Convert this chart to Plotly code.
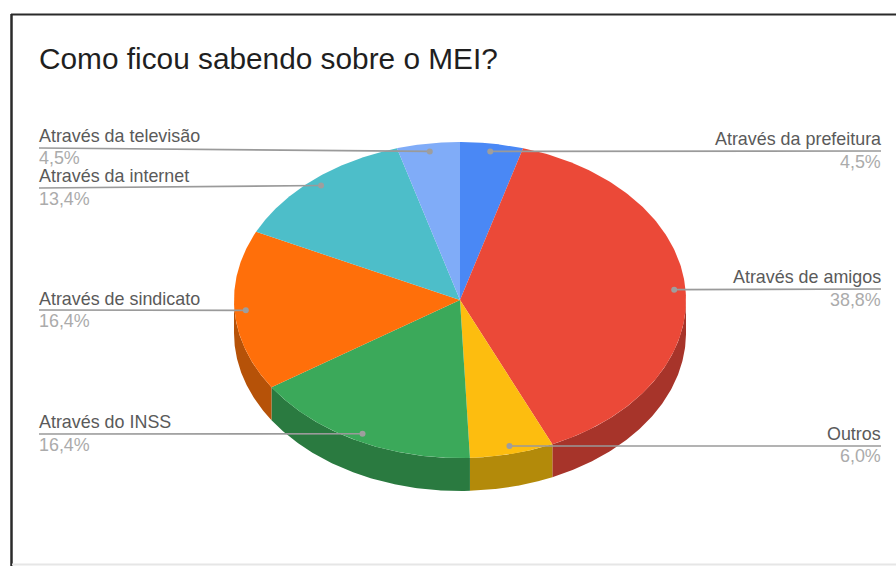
import numpy as np
import plotly.graph_objects as go

# Chart content
title = "Como ficou sabendo sobre o MEI?"
categories = ["Através da prefeitura", "Através de amigos", "Outros", "Através do INSS",
              "Através de sindicato", "Através da internet", "Através da televisão"]
shares = [4.5, 38.8, 6.0, 16.4, 16.4, 13.4, 4.5]
share_labels = ["4,5%", "38,8%", "6,0%", "16,4%", "16,4%", "13,4%", "4,5%"]

# Slice colours: top face and darker rim
top_colors = ["#4A88F5", "#EB4938", "#FDBD0F", "#3BA95A", "#FF6F0A", "#4DBEC9", "#80ACF8"]
rim_colors = ["#2E5DAB", "#A7342A", "#B38A0A", "#2A7A40", "#B65208", "#31848B", "#5677AD"]

# Pie geometry in page pixels
CX, CY, RX, RY, DEPTH = 460, 300, 226, 158, 33
DOT_RADIUS = 0.95

# Leader end on the label side: (x, y, anchor), and text centres above and below the line
label_layout = [
    (881, 151, "right", 139, 162),
    (881, 289, "right", 277, 300),
    (881, 446, "right", 434, 456),
    (39, 434, "left", 422, 445),
    (39, 310, "left", 299, 321),
    (39, 188, "left", 176, 199),
    (39, 148, "left", 136, 158),
]


def ellipse(deg, scale=1.0, drop=0.0):
    """Point on the pie, angle measured clockwise from twelve o'clock."""
    a = np.radians(deg)
    return CX + scale * RX * np.sin(a), CY - scale * RY * np.cos(a) + drop


total = sum(shares)
edges = np.cumsum([0.0] + shares) / total * 360.0

fig = go.Figure()

# Rim: only the near half of the disc (90 to 270 degrees) is visible
for i in range(len(shares)):
    lo, hi = max(edges[i], 90.0), min(edges[i + 1], 270.0)
    if lo >= hi:
        continue
    t = np.linspace(lo, hi, 120)
    x_top, y_top = ellipse(t)
    x_low, y_low = ellipse(t[::-1], drop=DEPTH)
    fig.add_trace(go.Scatter(
        x=np.r_[x_top, x_low], y=np.r_[y_top, y_low], mode="lines", fill="toself",
        fillcolor=rim_colors[i], line=dict(width=0), hoverinfo="skip", showlegend=False))

# Top face
for i, name in enumerate(categories):
    t = np.linspace(edges[i], edges[i + 1], 160)
    x_arc, y_arc = ellipse(t)
    fig.add_trace(go.Scatter(
        x=np.r_[CX, x_arc, CX], y=np.r_[CY, y_arc, CY], mode="lines", fill="toself",
        fillcolor=top_colors[i], line=dict(width=0), name=name,
        text=share_labels[i], hoverinfo="name+text", showlegend=False))

# Leader lines, anchor dots and labels
for i, name in enumerate(categories):
    mid = (edges[i] + edges[i + 1]) / 2
    dot_x, dot_y = ellipse(mid, scale=DOT_RADIUS)
    end_x, end_y, anchor, name_y, pct_y = label_layout[i]
    fig.add_trace(go.Scatter(
        x=[dot_x, end_x], y=[dot_y, end_y], mode="lines",
        line=dict(color="#9A9A9A", width=1.6), hoverinfo="skip", showlegend=False))
    fig.add_trace(go.Scatter(
        x=[dot_x], y=[dot_y], mode="markers",
        marker=dict(color="#9E9E9E", size=6), hoverinfo="skip", showlegend=False))
    fig.add_annotation(x=end_x, y=name_y, text=name, xanchor=anchor, yanchor="middle",
                       showarrow=False, borderpad=0, borderwidth=0,
                       font=dict(family="Liberation Sans", size=17.9, color="#5A5A5A"))
    fig.add_annotation(x=end_x, y=pct_y, text=share_labels[i], xanchor=anchor, yanchor="middle",
                       showarrow=False, borderpad=0, borderwidth=0,
                       font=dict(family="Liberation Sans", size=17.9, color="#ABABAB"))

fig.add_annotation(x=38, y=58, text=title, xanchor="left", yanchor="middle", showarrow=False,
                   borderpad=0, font=dict(family="Liberation Sans", size=29.8, color="#1F1F1F"))

# Card outline
fig.add_shape(type="line", x0=11, x1=896, y0=14.5, y1=14.5, line=dict(color="#2A2A2A", width=2), layer="below")
fig.add_shape(type="line", x0=11.5, x1=11.5, y0=14, y1=566, line=dict(color="#2A2A2A", width=2.5), layer="below")
fig.add_shape(type="line", x0=12, x1=896, y0=564.5, y1=564.5, line=dict(color="#E6E6E6", width=2), layer="below")

fig.update_layout(
    width=896, height=566, margin=dict(l=0, r=0, t=0, b=0),
    paper_bgcolor="white", plot_bgcolor="white", showlegend=False,
    xaxis=dict(range=[0, 896], visible=False, fixedrange=True),
    yaxis=dict(range=[566, 0], visible=False, fixedrange=True),
)

fig.write_html("out.html", config=dict(displayModeBar=False))
